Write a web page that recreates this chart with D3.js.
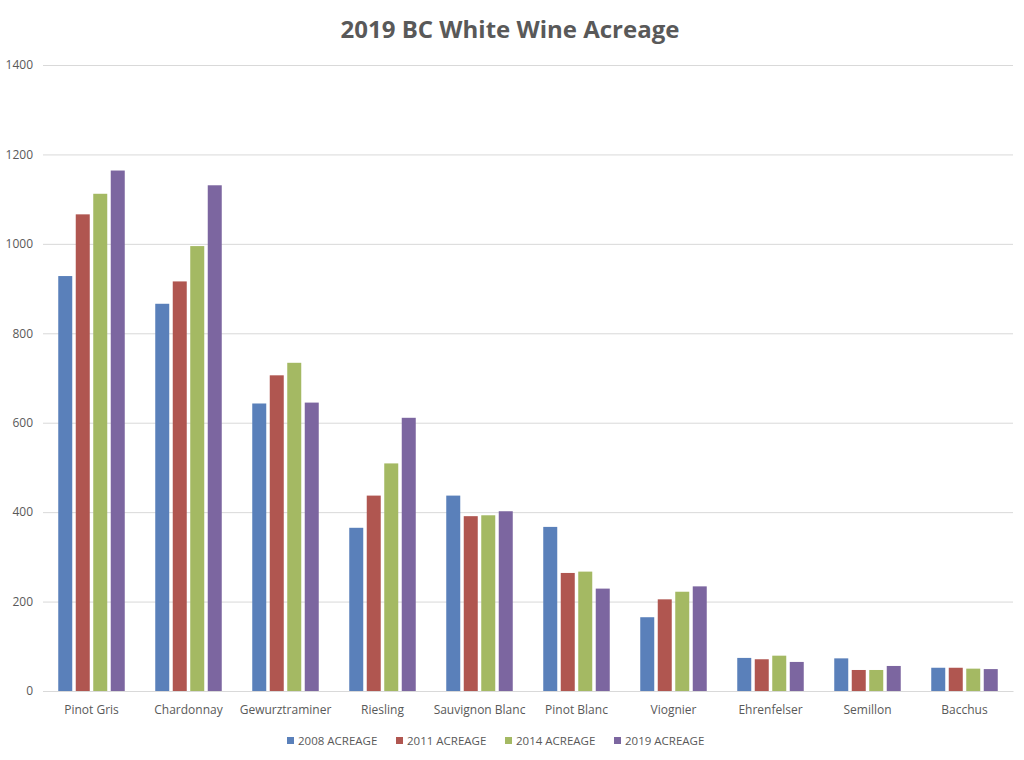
<!DOCTYPE html>
<html>
<head>
<meta charset="utf-8">
<script src="https://cdn.jsdelivr.net/npm/d3@7"></script>
<style>
  body { margin: 0; background: #fff; }
  text { font-family: "Open Sans", "Liberation Sans", sans-serif; }
</style>
</head>
<body>
<div id="chart"></div>
<script>
(() => {
  const categories = ['Pinot Gris', 'Chardonnay', 'Gewurztraminer', 'Riesling', 'Sauvignon Blanc',
    'Pinot Blanc', 'Viognier', 'Ehrenfelser', 'Semillon', 'Bacchus'];
  const seriesNames = ['2008 ACREAGE', '2011 ACREAGE', '2014 ACREAGE', '2019 ACREAGE'];
  const acreage2008 = [928, 866, 643, 365, 437, 367, 165, 74, 73, 52];
  const acreage2011 = [1066, 916, 706, 437, 391, 264, 205, 71, 47, 52];
  const acreage2014 = [1112, 995, 734, 509, 393, 267, 222, 79, 47, 50];
  const acreage2019 = [1164, 1131, 645, 611, 402, 229, 234, 65, 56, 49];
  const yTicks = [0, 200, 400, 600, 800, 1000, 1200, 1400];
  const colors = ['#5a80ba', '#b05650', '#a4b963', '#7c66a0'];

  const allSeries = [acreage2008, acreage2011, acreage2014, acreage2019];

  let margin = { top: 65, right: 11, bottom: 69, left: 43 };
  let width = 1024 - margin.left - margin.right;
  let height = 760 - margin.top - margin.bottom;

  let root = d3.select('#chart')
    .append('svg')
    .attr('width', 1024)
    .attr('height', 760);

  root.append('text')
    .attr('x', 510)
    .attr('y', 38)
    .style('text-anchor', 'middle')
    .style('font-size', '24px')
    .style('font-weight', 'bold')
    .style('fill', '#595959')
    .text('2019 BC White Wine Acreage');

  let svg = root.append('g')
    .attr('transform', `translate(${margin.left}, ${margin.top})`);

  let yScale = d3.scaleLinear()
    .domain([0, 1400])
    .range([height, 0]);

  let x0 = d3.scaleBand()
    .domain(categories)
    .range([0, width]);

  let x1 = d3.scaleBand()
    .domain(seriesNames)
    .range([(x0.bandwidth() - 70) / 2, (x0.bandwidth() + 70) / 2])
    .paddingInner(0.2)
    .paddingOuter(0.1);

  // gridlines + y labels
  let yAxis = d3.axisLeft(yScale)
    .tickValues(yTicks)
    .tickFormat(d3.format('d'))
    .tickSize(-width)
    .tickPadding(10);

  let yG = svg.append('g').call(yAxis);
  yG.select('.domain').remove();
  yG.selectAll('.tick line').attr('stroke', '#d9d9d9').attr('stroke-width', 1);
  yG.selectAll('.tick text')
    .attr('fill', '#595959')
    .style('font-size', '12px');

  // bars
  let groups = svg.selectAll('.group')
    .data(categories)
    .enter()
    .append('g')
    .attr('class', 'group')
    .attr('transform', d => `translate(${x0(d)}, 0)`);

  groups.selectAll('rect')
    .data((d, i) => seriesNames.map((s, j) => ({ s, j, v: allSeries[j][i] })))
    .enter()
    .append('rect')
    .attr('x', d => x1(d.s))
    .attr('width', x1.bandwidth())
    .attr('y', d => yScale(d.v))
    .attr('height', d => height - yScale(d.v))
    .attr('fill', d => colors[d.j]);

  // x axis
  let xAxis = d3.axisBottom(x0)
    .tickSize(0)
    .tickPadding(14);

  let xG = svg.append('g')
    .attr('transform', `translate(0, ${height})`)
    .call(xAxis);
  xG.select('.domain').attr('stroke', '#d9d9d9');
  xG.selectAll('.tick text')
    .attr('fill', '#595959')
    .style('font-size', '12px');

  // legend
  let legendX = [287, 396, 505, 614];
  let legend = root.append('g')
    .selectAll('g')
    .data(seriesNames)
    .enter()
    .append('g')
    .attr('transform', (d, i) => `translate(${legendX[i]}, 737)`);

  legend.append('rect')
    .attr('width', 7)
    .attr('height', 7)
    .attr('fill', (d, i) => colors[i]);

  legend.append('text')
    .attr('x', 11)
    .attr('y', 7.5)
    .style('font-size', '11.5px')
    .style('fill', '#595959')
    .text(d => d);
})()
</script>
</body>
</html>
